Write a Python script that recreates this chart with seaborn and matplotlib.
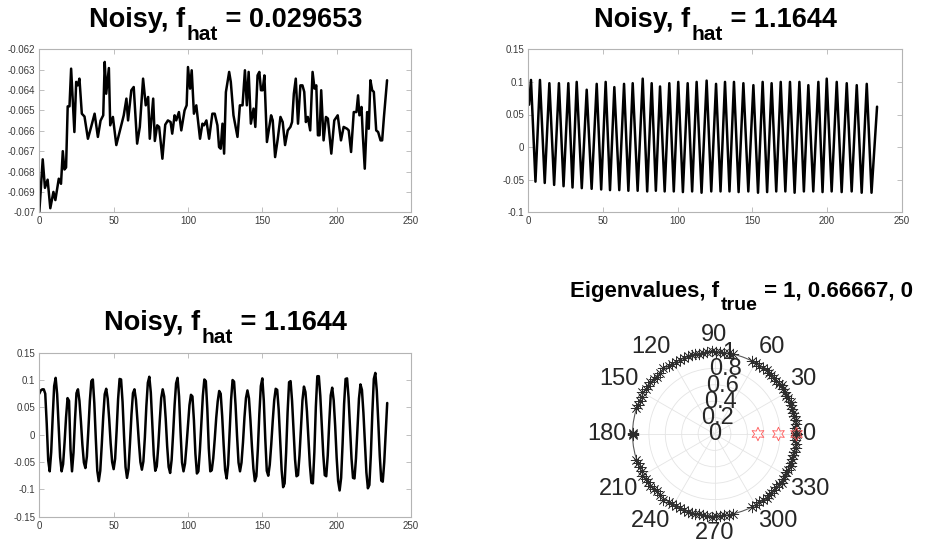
import numpy as np
import matplotlib
matplotlib.use("Agg")
import matplotlib.pyplot as plt
import seaborn as sns

# ---------------- data ----------------
# slowly drifting noisy record (turning points of the trace)
drift_x = [0, 2.3, 3.8, 5.6, 7.4, 9.5, 10.8, 13.1, 14.6, 15.8, 16.9, 18, 19.1, 20.3, 21.4,
           23.6, 24.8, 25.9, 27, 28.6, 30.4, 32.7, 34.9, 37.2, 39.4, 41.2, 43, 44, 45, 46.8,
           47.7, 49.5, 51.8, 54, 56.8, 58.6, 59.7, 61.9, 63.5, 65.8, 67.6, 69.8, 71.6, 73.2,
           74.3, 76.6, 77.7, 79.3, 80.6, 82.8, 84.7, 86.5, 88.3, 89.4, 91, 92.1, 93.9, 95.5,
           97.7, 99.1, 100, 101.4, 102.5, 104, 105.6, 108.1, 109.7, 110.8, 112.4, 114.2,
           116.4, 118, 119.8, 120.9, 122, 123.2, 124.3, 125.5, 127.7, 128.8, 130.6, 133.3,
           134.9, 136.7, 138.3, 139.6, 140.8, 142.3, 144.1, 145.3, 146.8, 148, 149.1, 150.2,
           151.4, 153.1, 155.9, 157, 158.6, 160.4, 162.2, 163.7, 165.3, 167.1, 168.9, 170,
           171.2, 172.5, 174, 175.6, 177, 178.2, 179.3, 180.6, 182.2, 183.8, 185.1, 186.3,
           187.4, 188.5, 189.6, 191.2, 192.8, 194.1, 196.4, 198.4, 200.7, 202.9, 204.7, 207,
           208.1, 209.7, 211.5, 213.3, 214.4, 215.3, 216.7, 217.6, 218.9, 220.5, 221.6, 222.7,
           223.9, 225, 226.6, 227.9, 229.5, 230.6, 231.8, 233.9]
drift_y = [-0.07, -0.0674, -0.0688, -0.0684, -0.0698, -0.069, -0.0694, -0.06835, -0.0686,
           -0.067, -0.0679, -0.0678, -0.0648, -0.0648, -0.06295, -0.06606, -0.0636, -0.06377,
           -0.06344, -0.06516, -0.0653, -0.06639, -0.0658, -0.06516, -0.0663, -0.0655,
           -0.06524, -0.06262, -0.06418, -0.06292, -0.06573, -0.06532, -0.0667, -0.06606,
           -0.06524, -0.06442, -0.06549, -0.06401, -0.06385, -0.06663, -0.06581, -0.06344,
           -0.06475, -0.06434, -0.06639, -0.06442, -0.0665, -0.06573, -0.06581, -0.06737,
           -0.0657, -0.06549, -0.06557, -0.06614, -0.06524, -0.06549, -0.06508, -0.06598,
           -0.065, -0.06475, -0.06287, -0.06393, -0.06303, -0.06516, -0.06475, -0.06639,
           -0.06565, -0.06573, -0.06549, -0.06639, -0.06516, -0.06516, -0.06573, -0.0668,
           -0.06688, -0.06565, -0.06712, -0.0641, -0.06311, -0.0636, -0.06524, -0.0663,
           -0.06475, -0.06475, -0.06303, -0.06475, -0.06311, -0.06565, -0.06491, -0.06581,
           -0.06328, -0.06311, -0.06401, -0.06401, -0.06328, -0.06655, -0.06524, -0.06549,
           -0.06729, -0.06639, -0.06532, -0.06557, -0.0667, -0.06598, -0.06581, -0.06557,
           -0.06418, -0.06344, -0.06565, -0.06377, -0.06377, -0.06409, -0.06557, -0.06532,
           -0.06598, -0.06311, -0.06393, -0.06377, -0.06622, -0.06622, -0.06401, -0.06647,
           -0.06532, -0.0654, -0.06712, -0.06549, -0.06524, -0.06647, -0.06581, -0.0659,
           -0.06598, -0.06704, -0.06508, -0.06508, -0.06426, -0.06524, -0.06483, -0.06622,
           -0.06786, -0.06508, -0.0659, -0.06352, -0.06401, -0.06409, -0.06598, -0.06606,
           -0.06647, -0.06647, -0.06532, -0.06352]

# fast oscillation (peaks and troughs in order)
fast_x = [0.5, 1.8, 4.8, 7.8, 11.0, 14.1, 17.3, 20.5, 23.6, 26.8, 29.6, 32.4, 35.8, 39.1,
          42.4, 45.8, 48.8, 51.8, 54.7, 57.6, 60.9, 64.1, 67.0, 69.9, 73.2, 76.6, 79.6, 82.6,
          85.4, 88.2, 91.3, 94.4, 97.4, 100.4, 103.5, 106.7, 109.7, 112.7, 116.0, 119.4,
          122.5, 125.7, 128.7, 131.7, 134.7, 137.7, 140.8, 144.0, 147.3, 150.7, 153.8, 156.9,
          159.9, 162.9, 166.0, 169.0, 172.1, 175.2, 178.3, 181.5, 184.5, 187.5, 190.8, 194.2,
          197.0, 199.8, 203.1, 206.5, 209.8, 213.2, 216.5, 219.9, 223.2, 226.6, 229.8, 233.5]
fast_y = [0.065, 0.103, -0.053, 0.103, -0.055, 0.098, -0.058, 0.098, -0.060, 0.098, -0.062,
          0.100, -0.063, 0.088, -0.064, 0.097, -0.065, 0.100, -0.066, 0.092, -0.066, 0.097,
          -0.067, 0.098, -0.067, 0.105, -0.068, 0.098, -0.067, 0.093, -0.068, 0.098, -0.068,
          0.100, -0.069, 0.098, -0.068, 0.100, -0.070, 0.102, -0.068, 0.097, -0.068, 0.100,
          -0.068, 0.100, -0.069, 0.098, -0.068, 0.095, -0.070, 0.100, -0.069, 0.098, -0.068,
          0.100, -0.068, 0.100, -0.070, 0.100, -0.068, 0.095, -0.068, 0.100, -0.069, 0.105,
          -0.068, 0.100, -0.069, 0.098, -0.068, 0.095, -0.070, 0.097, -0.070, 0.062]

# slower oscillation, one value per sample
slow_y = [0.075, 0.081, 0.083, 0.083, 0.075, 0.020, -0.047, -0.067, -0.032, 0.032, 0.089,
          0.104, 0.074, 0.016, -0.041, -0.067, -0.054, -0.014, 0.032, 0.067, 0.062, -0.027,
          -0.067, -0.033, 0.027, 0.076, 0.083, 0.062, 0.024, -0.019, -0.051, -0.061, -0.040,
          0.009, 0.062, 0.098, 0.101, 0.058, -0.007, -0.066, -0.085, -0.066, -0.019, 0.033,
          0.074, 0.084, 0.066, 0.029, -0.016, -0.050, -0.063, -0.044, 0.007, 0.065, 0.102,
          0.101, 0.060, -0.003, -0.059, -0.079, -0.063, -0.015, 0.037, 0.076, 0.083, 0.064,
          0.026, -0.015, -0.050, -0.064, -0.049, -0.005, 0.052, 0.095, 0.106, 0.077, 0.020,
          -0.037, -0.066, -0.058, -0.022, 0.025, 0.067, 0.083, 0.070, 0.030, -0.021, -0.059,
          -0.070, -0.046, 0.002, 0.054, 0.094, 0.104, 0.070, 0.005, -0.051, -0.067, -0.053,
          -0.020, 0.017, 0.054, 0.073, 0.070, 0.026, -0.035, -0.071, -0.067, -0.029, 0.021,
          0.071, 0.101, 0.098, 0.047, -0.025, -0.067, -0.065, -0.043, -0.008, 0.031, 0.061,
          0.080, 0.075, 0.034, -0.019, -0.065, -0.080, -0.055, 0.003, 0.064, 0.100, 0.097,
          0.054, -0.002, -0.051, -0.067, -0.051, -0.014, 0.032, 0.067, 0.081, 0.067, 0.027,
          -0.021, -0.062, -0.085, -0.076, -0.026, 0.038, 0.089, 0.103, 0.062, -0.008, -0.066,
          -0.075, -0.055, -0.018, 0.025, 0.063, 0.084, 0.082, 0.046, -0.010, -0.065, -0.096,
          -0.089, -0.033, 0.041, 0.096, 0.098, 0.062, 0.007, -0.045, -0.076, -0.074, -0.038,
          0.014, 0.063, 0.088, 0.078, 0.043, -0.008, -0.056, -0.088, -0.089, -0.032, 0.051,
          0.107, 0.107, 0.071, 0.016, -0.037, -0.074, -0.076, -0.038, 0.022, 0.072, 0.086,
          0.063, 0.016, -0.042, -0.085, -0.102, -0.079, -0.016, 0.056, 0.102, 0.103, 0.068,
          0.012, -0.044, -0.079, -0.080, -0.043, 0.013, 0.066, 0.092, 0.082, 0.040, -0.016,
          -0.069, -0.098, -0.092, -0.037, 0.040, 0.102, 0.113, 0.080, 0.023, -0.039, -0.084,
          -0.086, -0.050, 0.005, 0.058]
slow_x = list(range(len(slow_y)))

# eigenvalues: phase angle (deg) and modulus
eig_deg = [0, 1, 4, 7, 10, 13, 15, 18, 21, 23, 26, 28, 31, 33, 36, 38, 41, 43, 46, 48, 51,
           54, 57, 60, 63, 77, 80, 83, 86, 89, 92, 95, 98, 101, 104, 106, 109, 112, 115, 118,
           121, 124, 128, 132, 135, 138, 141, 144, 147, 150, 153, 156, 159, 162, 179, 180,
           -1, -4, -7, -10, -13, -15, -18, -21, -23, -26, -28, -31, -33, -36, -38, -41, -43,
           -46, -48, -51, -54, -57, -60, -63, -77, -80, -83, -86, -89, -92, -95, -98, -101,
           -104, -106, -109, -112, -115, -118, -121, -124, -128, -132, -135, -138, -141,
           -144, -147, -150, -153, -156, -159, -162, -179]
eig_mod = [1.0, 1.0, 0.99, 1.0, 1.01, 1.0, 0.99, 1.0, 1.0, 1.01, 1.0, 0.99, 1.0, 1.0, 1.01,
           1.0, 0.99, 1.0, 1.0, 1.0, 1.01, 1.0, 0.99, 1.0, 1.0, 1.0, 1.0, 0.99, 1.0, 1.0,
           1.01, 1.0, 1.0, 0.99, 1.0, 1.0, 1.01, 1.0, 1.0, 0.99, 1.0, 1.0, 1.02, 1.0, 0.99,
           1.0, 1.01, 1.0, 1.0, 1.02, 0.99, 1.0, 1.0, 1.01, 1.0, 1.0,
           1.0, 0.99, 1.0, 1.01, 1.0, 0.99, 1.0, 1.0, 1.01, 1.0, 0.99, 1.0, 1.0, 1.01, 1.0,
           0.99, 1.0, 1.0, 1.0, 1.01, 1.0, 0.99, 1.0, 1.0, 1.0, 1.0, 0.99, 1.0, 1.0, 1.01,
           1.0, 1.0, 0.99, 1.0, 1.0, 1.01, 1.0, 1.0, 0.99, 1.0, 1.0, 1.02, 1.0, 0.99, 1.0,
           1.01, 1.0, 1.0, 1.02, 0.99, 1.0, 1.0, 1.01, 1.0]
true_deg = [0, 0, 0]
true_mod = [0.53, 0.78, 1.0]

drift_yticks = [-0.07, -0.069, -0.068, -0.067, -0.066, -0.065, -0.064, -0.063, -0.062]
drift_ylabels = ["-0.07", "-0.069", "-0.068", "-0.067", "-0.066", "-0.065", "-0.064",
                 "-0.063", "-0.062"]
fast_yticks = [-0.1, -0.05, 0, 0.05, 0.1, 0.15]
fast_ylabels = ["-0.1", "-0.05", "0", "0.05", "0.1", "0.15"]
slow_yticks = [-0.15, -0.1, -0.05, 0, 0.05, 0.1, 0.15]
slow_ylabels = ["-0.15", "-0.1", "-0.05", "0", "0.05", "0.1", "0.15"]
xticks = [0, 50, 100, 150, 200, 250]
theta_ticks = [0, 30, 60, 90, 120, 150, 180, 210, 240, 270, 300, 330]
r_ticks = [0, 0.2, 0.4, 0.6, 0.8, 1]
r_labels = ["0", "0.2", "0.4", "0.6", "0.8", "1"]

# ---------------- style ----------------
sns.set_theme(style="white")
plt.rcParams["font.family"] = ["Liberation Sans", "DejaVu Sans"]

W, H = 925, 550
fig = plt.figure(figsize=(W / 100, H / 100), dpi=100)
fig.patch.set_facecolor("white")

SPINE = "#b4b4b4"
TICKTXT = "#3a3a3a"


def px_axes(left, top, right, bottom, **kw):
    return fig.add_axes([left / W, 1 - bottom / H, (right - left) / W, (bottom - top) / H], **kw)


def style_cartesian(ax, yticks, ylabels, ylim):
    ax.set_xlim(0, 250)
    ax.set_ylim(*ylim)
    ax.set_xticks(xticks)
    ax.set_xticklabels([str(t) for t in xticks])
    ax.set_yticks(yticks)
    ax.set_yticklabels(ylabels)
    ax.set_xlabel("")
    ax.set_ylabel("")
    for s in ax.spines.values():
        s.set_color(SPINE)
        s.set_linewidth(0.8)
        s.set_visible(True)
    ax.tick_params(direction="in", length=3.5, width=0.6, color=SPINE, labelsize=7,
                   labelcolor=TICKTXT, top=True, right=True, bottom=True, left=True)
    ax.tick_params(axis="x", pad=3)
    ax.tick_params(axis="y", pad=3)
    ax.set_facecolor("white")


def line(ax, x, y):
    sns.lineplot(x=x, y=y, ax=ax, color="black", linewidth=1.8, sort=False,
                 estimator=None, solid_joinstyle="round", solid_capstyle="round")


renderer = fig.canvas.get_renderer()


def sub_title(cx, base, main1, sub, main2, size, sub_size, drop):
    kw = dict(fontweight="bold", color="black", va="baseline", ha="left")
    t1 = fig.text(0, 0, main1, fontsize=size, **kw)
    t2 = fig.text(0, 0, sub, fontsize=sub_size, **kw)
    t3 = fig.text(0, 0, main2, fontsize=size, **kw)
    w = [t.get_window_extent(renderer).width for t in (t1, t2, t3)]
    x0 = cx - sum(w) / 2
    t1.set_position((x0 / W, 1 - base / H))
    t2.set_position(((x0 + w[0] + 1) / W, 1 - (base + drop) / H))
    t3.set_position(((x0 + w[0] + w[1] + 1) / W, 1 - base / H))


# ---------------- top left ----------------
ax1 = px_axes(39.3, 49.3, 411, 212.3)
line(ax1, drift_x, drift_y)
style_cartesian(ax1, drift_yticks, drift_ylabels, (-0.07, -0.062))
sub_title(225, 27, "Noisy, f", "hat", " = 0.029653", 19.5, 15, 13)

# ---------------- top right ----------------
ax2 = px_axes(528.3, 49.3, 901.7, 212.3)
line(ax2, fast_x, fast_y)
style_cartesian(ax2, fast_yticks, fast_ylabels, (-0.1, 0.15))
sub_title(715, 27, "Noisy, f", "hat", " = 1.1644", 19.5, 15, 13)

# ---------------- bottom left ----------------
ax3 = px_axes(39.3, 352.7, 411, 516.7)
line(ax3, slow_x, slow_y)
style_cartesian(ax3, slow_yticks, slow_ylabels, (-0.15, 0.15))
sub_title(225, 330, "Noisy, f", "hat", " = 1.1644", 19.5, 15, 13)

# ---------------- polar eigenvalues ----------------
cxp, cyp, rad = 714.5, 434, 82
axp = px_axes(cxp - rad, cyp - rad, cxp + rad, cyp + rad, projection="polar")
axp.set_facecolor("white")
axp.set_ylim(0, 1)
axp.set_xticks(np.deg2rad(theta_ticks))
axp.set_xticklabels([])
axp.set_yticks([0.2, 0.4, 0.6, 0.8])
axp.set_yticklabels([])
axp.grid(True, color="#e4e4e4", linewidth=0.6)
axp.spines["polar"].set_color("#5a5a5a")
axp.spines["polar"].set_linewidth(0.8)
axp.tick_params(length=0)

sns.scatterplot(x=np.deg2rad(eig_deg), y=eig_mod, ax=axp, marker=(8, 2, 0), s=60,
                color="#2e2e2e", linewidth=0.5, clip_on=False, zorder=3, legend=False)
sns.scatterplot(x=np.deg2rad(true_deg), y=true_mod, ax=axp, marker=(6, 1, 0), s=95,
                color="red", facecolor="none", edgecolor="#ff5555", linewidth=0.6,
                clip_on=False, zorder=4, legend=False)
axp.set_xlabel("")
axp.set_ylabel("")

for ang in theta_ticks:
    c, s_ = np.cos(np.deg2rad(ang)), np.sin(np.deg2rad(ang))
    ha = "center" if abs(c) < 0.1 else ("left" if c > 0 else "right")
    va = "center" if abs(s_) < 0.1 else ("bottom" if s_ > 0 else "top")
    axp.text(np.deg2rad(ang), 1.07, str(ang), ha=ha, va=va, fontsize=17,
             color="#262626", clip_on=False)

for rv, lab in zip(r_ticks, r_labels):
    axp.text(np.deg2rad(80), rv, lab, ha="center", va="center", fontsize=17,
             color="#262626", clip_on=False, zorder=5)

sub_title(741, 296.5, "Eigenvalues, f", "true", " = 1, 0.66667, 0", 16, 14, 14)

fig.savefig("out.png", dpi=100, facecolor="white")
